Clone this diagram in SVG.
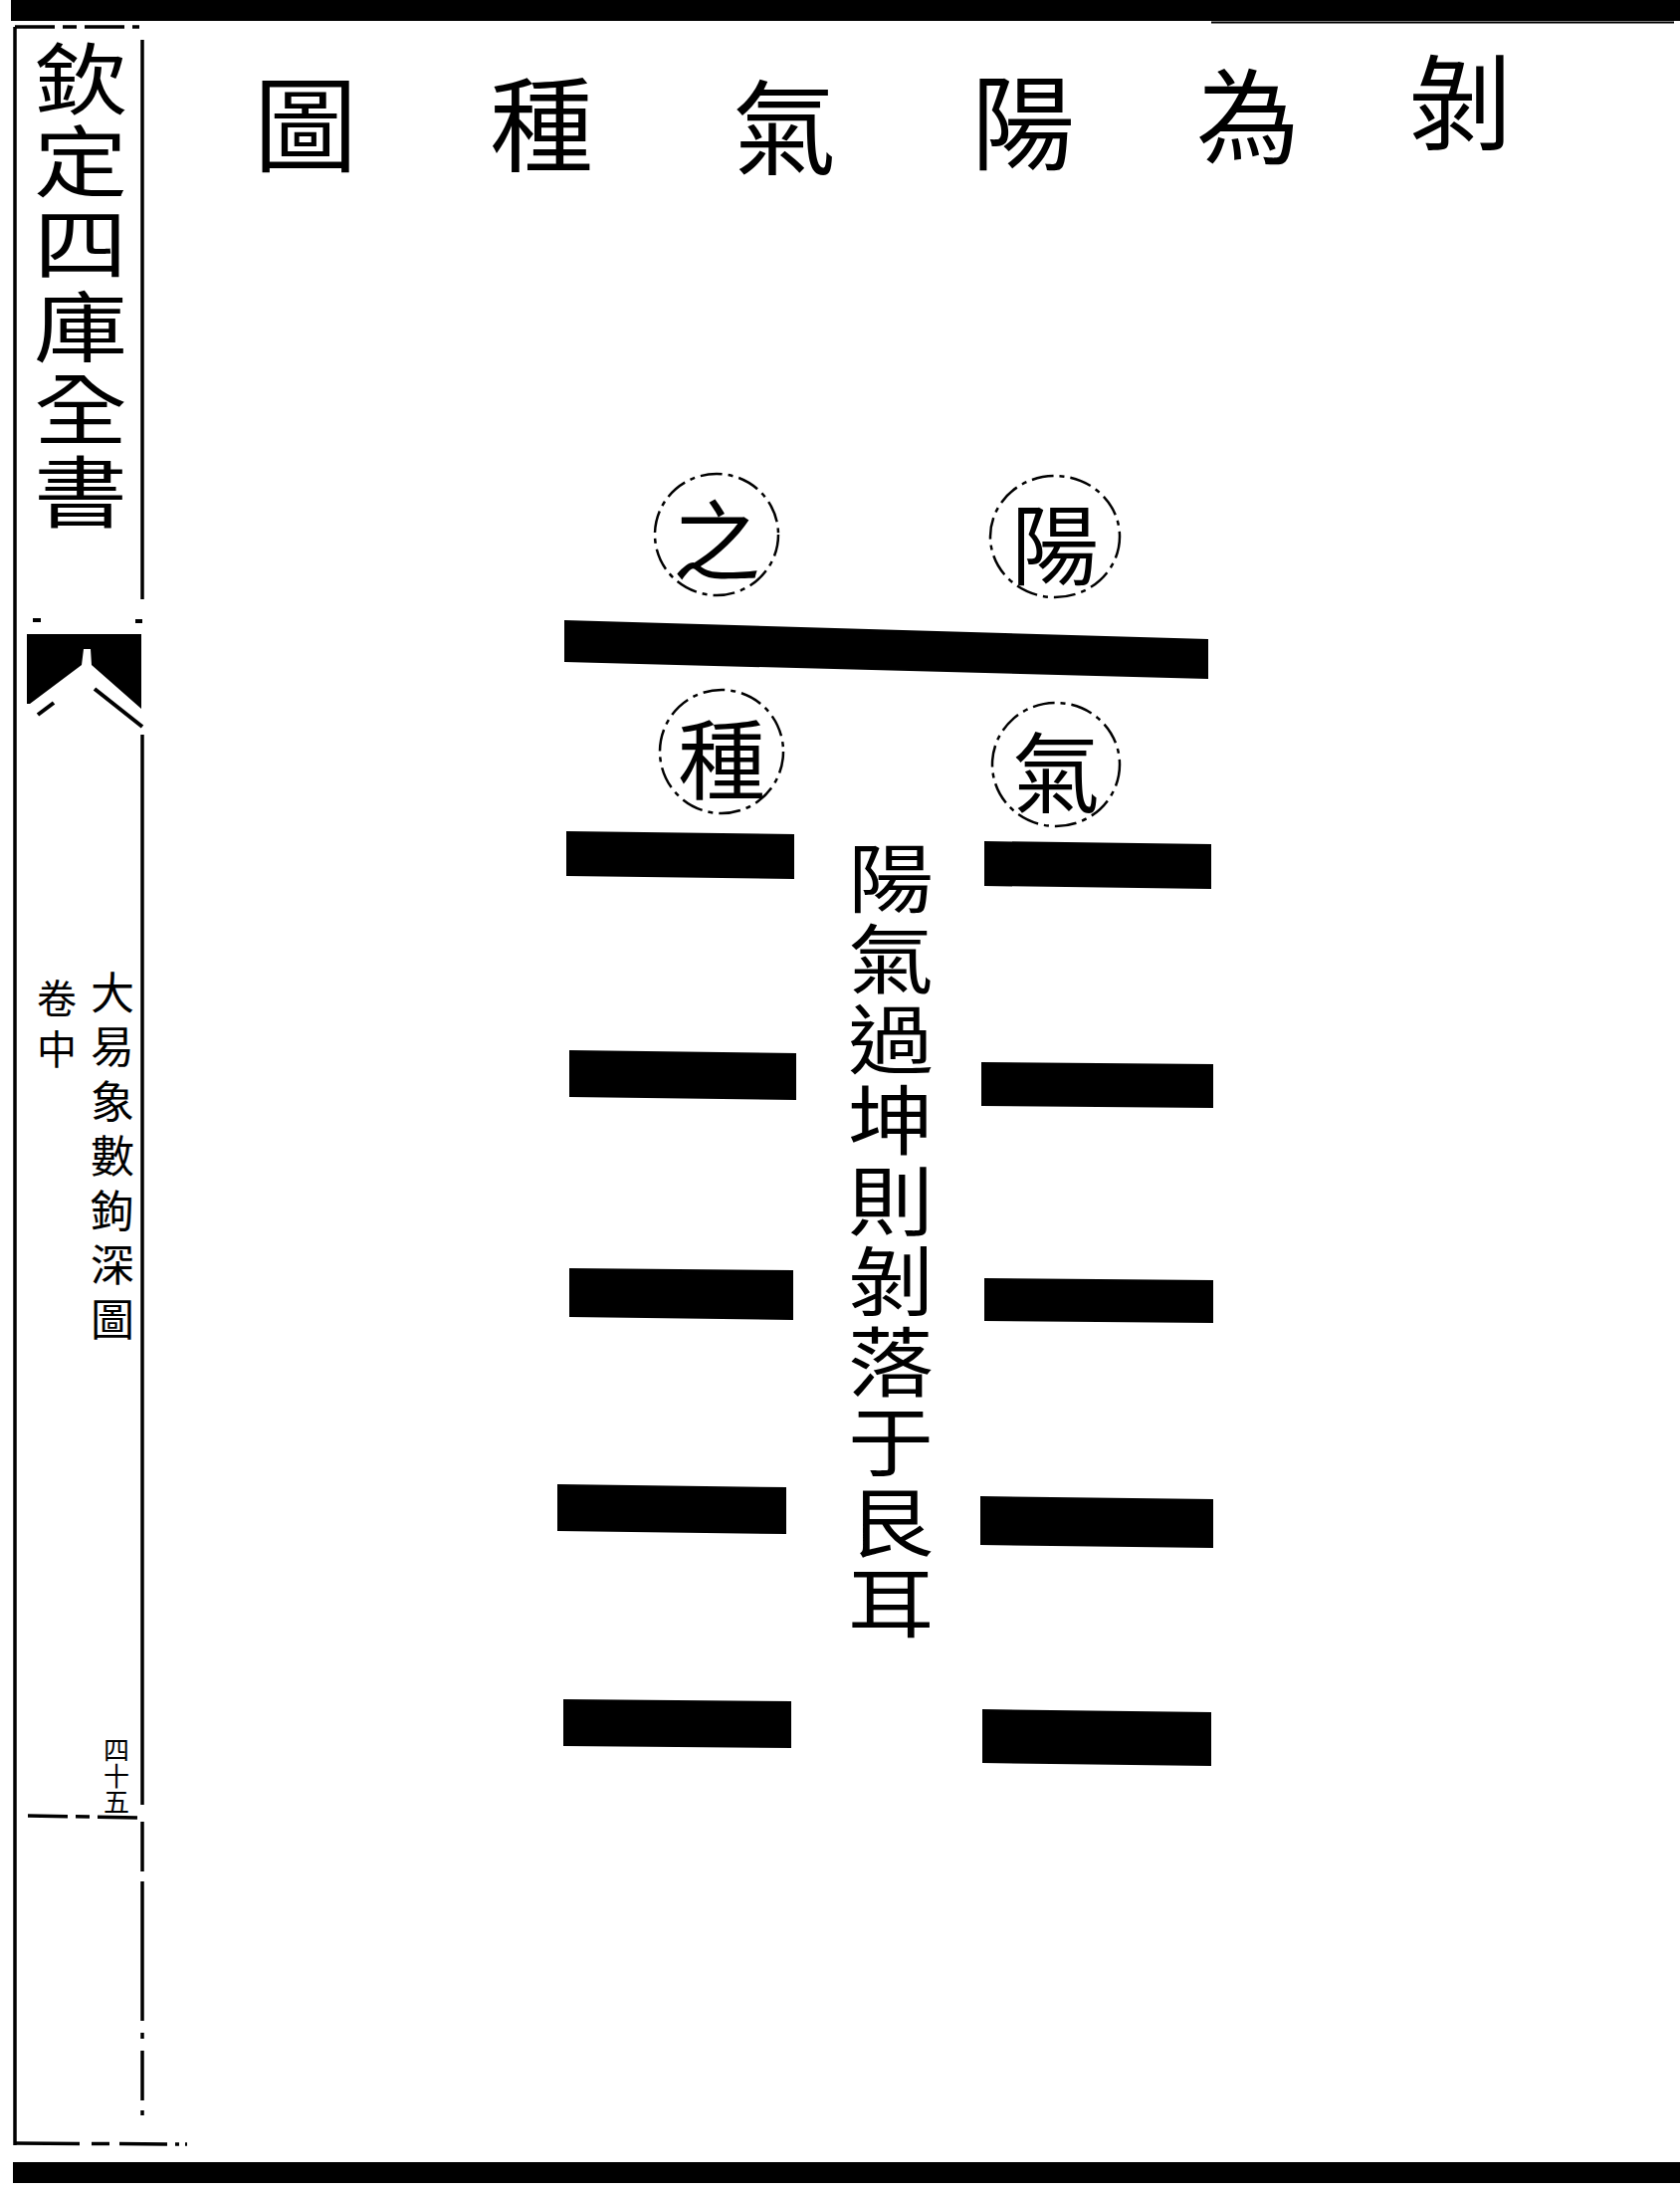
<svg xmlns="http://www.w3.org/2000/svg" width="1688" height="2202" viewBox="0 0 1688 2202">
<style>
.cjk{font-family:"Noto Sans CJK TC","Noto Sans CJK SC","Noto Sans CJK JP",sans-serif;fill:#000}
.h{text-anchor:middle;dominant-baseline:central}
.v{writing-mode:vertical-rl;text-anchor:start}
.title{font-size:104px}
.ov{font-size:88px}
.frame{stroke:#000;stroke-width:3.5;fill:none}
.dash{stroke:#000;stroke-width:3.5;fill:none;stroke-dasharray:40 8 14 8}
.oval{stroke:#000;stroke-width:2.5;fill:none;stroke-dasharray:22 6 5 6}
.bar{fill:#000}
</style>
<rect width="1688" height="2202" fill="#fff"/>
<g id="page-frame">
<rect x="11" y="0" width="1677" height="21" fill="#000"/>
<line x1="1217" y1="22.5" x2="1682" y2="22.5" stroke="#000" stroke-width="2"/>
<rect x="13" y="2172" width="1675" height="21" fill="#000"/>
<line class="dash" x1="15" y1="27" x2="140" y2="27"/>
<line class="frame" x1="15" y1="27" x2="15" y2="2155"/>
<line class="frame" x1="143" y1="40" x2="143" y2="602"/>
<line class="frame" x1="143" y1="738" x2="143" y2="1813"/>
<line class="dash" x1="143" y1="1830" x2="143" y2="2125" style="stroke-dasharray:50 10 140 12 6 12"/>
<line x1="33" y1="623" x2="41" y2="623" stroke="#000" stroke-width="4"/>
<line x1="136" y1="624" x2="143" y2="624" stroke="#000" stroke-width="4"/>
<line class="dash" x1="28" y1="1824" x2="143" y2="1826"/>
<line class="dash" x1="15" y1="2153" x2="188" y2="2154" style="stroke-dasharray:65 12 18 10 48 8 4 6 8"/>
<polygon points="27,637 142,637 142,712 92,668 91,652 84,652 82,668 30,707 27,707" fill="#000"/>
<line x1="95" y1="692" x2="143" y2="730" stroke="#000" stroke-width="4"/>
<line x1="38" y1="718" x2="54" y2="706" stroke="#000" stroke-width="4"/>
</g>
<g id="side-title" transform="matrix(1 0 0 0.84 0 0)">
<text class="cjk v" x="81" y="47" style="font-size:94px;letter-spacing:4.8px">欽定四庫全書</text>
</g>
<g id="book-title">
<text class="cjk v" x="113" y="975" style="font-size:44px;letter-spacing:10.7px">大易象數鉤深圖</text>
<text class="cjk v" x="57" y="983" style="font-size:40px;letter-spacing:11px">卷中</text>
</g>
<g id="page-number">
<text class="cjk v" x="117" y="1745" style="font-size:26px">四十五</text>
</g>
<g id="main-title">
<text class="cjk h title" x="1467" y="97">剝</text>
<text class="cjk h title" x="1254" y="111">為</text>
<text class="cjk h title" x="1028" y="117">陽</text>
<text class="cjk h title" x="788" y="122">氣</text>
<text class="cjk h title" x="544" y="119">種</text>
<text class="cjk h title" x="307" y="119">圖</text>
</g>
<g id="node-yang">
<ellipse class="oval" cx="1060" cy="539" rx="65" ry="61"/>
<text class="cjk h ov" x="1060" y="541">陽</text>
</g>
<g id="node-zhi">
<ellipse class="oval" cx="720" cy="537" rx="62" ry="61"/>
<text class="cjk h ov" x="720" y="537">之</text>
</g>
<g id="node-qi">
<ellipse class="oval" cx="1061" cy="768" rx="64" ry="62"/>
<text class="cjk h ov" x="1061" y="770">氣</text>
</g>
<g id="node-zhong">
<ellipse class="oval" cx="725" cy="755" rx="62" ry="62"/>
<text class="cjk h ov" x="725" y="757">種</text>
</g>
<g id="hexagram">
<polygon class="bar" points="567,623 1214,642 1214,682 567,665"/>
<polygon class="bar" points="569,835 798,838 798,883 569,880"/>
<polygon class="bar" points="572,1055 800,1058 800,1105 572,1102"/>
<polygon class="bar" points="572,1274 797,1276 797,1326 572,1323"/>
<polygon class="bar" points="560,1491 790,1494 790,1541 560,1538"/>
<polygon class="bar" points="566,1707 795,1709 795,1756 566,1754"/>
<polygon class="bar" points="989,845 1217,848 1217,893 989,890"/>
<polygon class="bar" points="986,1067 1219,1069 1219,1113 986,1111"/>
<polygon class="bar" points="989,1284 1219,1286 1219,1329 989,1327"/>
<polygon class="bar" points="985,1503 1219,1506 1219,1555 985,1552"/>
<polygon class="bar" points="987,1717 1217,1720 1217,1774 987,1771"/>
</g>
<g id="note" transform="matrix(1 0 0 0.88 0 0)">
<text class="cjk v" x="895" y="960" style="font-size:86px;letter-spacing:5.9px">陽氣過坤則剝落于艮耳</text>
</g>
<g id="connectors"></g>
</svg>
